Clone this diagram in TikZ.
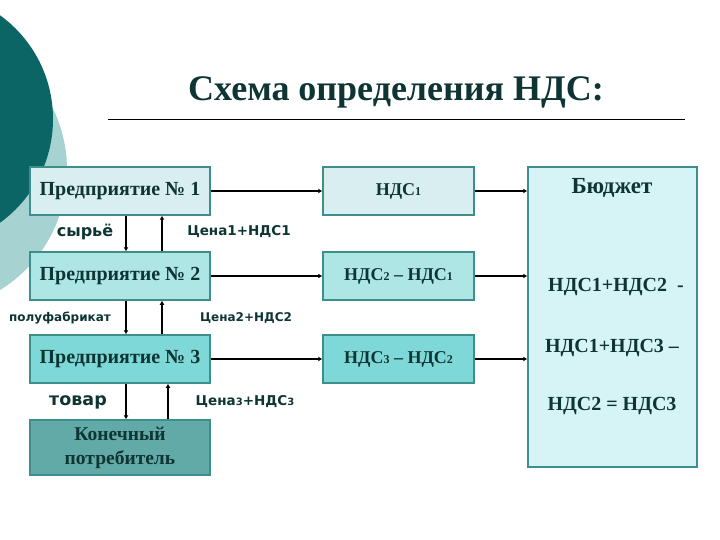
\documentclass[tikz,border=0pt]{standalone}
\usepackage{fontspec}
\setmainfont{Liberation Serif}
\newfontfamily\lblfont{DejaVu Sans}
\usetikzlibrary{arrows.meta}

\definecolor{inkdark}{HTML}{0E3434}
\definecolor{circdark}{HTML}{0A6564}
\definecolor{circlight}{HTML}{A6D2D2}
\definecolor{edgeteal}{HTML}{3E8E8B}
\definecolor{fillone}{HTML}{D9EEF0}
\definecolor{filltwo}{HTML}{AEE6E6}
\definecolor{fillthree}{HTML}{7FD8D8}
\definecolor{fillend}{HTML}{62AAA7}
\definecolor{fillbudget}{HTML}{D6F4F6}

\tikzset{
  firm/.style={rectangle, draw=edgeteal, line width=1.5pt, minimum width=180pt,
    minimum height=48pt, text=inkdark, font=\bfseries\fontsize{20}{24}\selectfont},
  tax/.style={rectangle, draw=edgeteal, line width=1.5pt, minimum width=151pt,
    minimum height=48pt, text=inkdark, font=\bfseries\fontsize{18}{21}\selectfont},
  note/.style={text=inkdark, font=\lblfont\bfseries\fontsize{13.5}{16}\selectfont, inner sep=1pt},
  sum/.style={text=inkdark, font=\bfseries\fontsize{20}{24}\selectfont, inner sep=1pt},
  flow/.style={line width=1.8pt, -{Latex[length=4pt,width=5pt]}}
}
\newcommand{\dg}[1]{{\fontsize{12}{14}\selectfont #1}}

\begin{document}
\begin{tikzpicture}[x=1pt, y=-1pt]
\useasboundingbox (0,0) rectangle (720,540);

% decoration circles
\fill[circlight] (-74,170) circle (141);
\fill[circdark] (-75,119) circle (128);

% title
\node[text=inkdark, font=\bfseries\fontsize{36}{42}\selectfont] (title) at (396,92) {Схема определения НДС:};
\draw[line width=1pt] (108,120) coordinate (rulel) -- (685,120) coordinate (ruler);

% firms
\node[firm, fill=fillone] (P1) at (120,191) {Предприятие № 1};
\node[firm, fill=filltwo] (P2) at (120,276) {Предприятие № 2};
\node[firm, fill=fillthree] (P3) at (120,359) {Предприятие № 3};
\node[firm, fill=fillend, minimum height=55pt, align=center,
  font=\bfseries\fontsize{19.5}{24}\selectfont] (K) at (120,447.5) {Конечный\\потребитель};

% tax boxes
\node[tax, fill=fillone] (N1) at (398.5,191) {НДС\dg{1}};
\node[tax, fill=filltwo] (N2) at (398.5,276) {НДС\dg{2} – НДС\dg{1}};
\node[tax, fill=fillthree] (N3) at (398.5,359) {НДС\dg{3} – НДС\dg{2}};

% budget
\node[rectangle, draw=edgeteal, line width=1.5pt, fill=fillbudget,
  minimum width=169pt, minimum height=300pt] (B) at (612.5,317) {};
\node[sum, font=\bfseries\fontsize{23}{27}\selectfont] (B0) at (612,188) {Бюджет};
\node[sum] (B1) at (616,287) {НДС1+НДС2\ \ -};
\node[sum] (B2) at (612,348) {НДС1+НДС3 –};
\node[sum] (B3) at (612,406) {НДС2 = НДС3};

% flows to the budget
\draw[flow] (P1) -- (N1);
\draw[flow] (P2) -- (N2);
\draw[flow] (P3) -- (N3);
\draw[flow] (N1.east) -- (N1.east -| B.west);
\draw[flow] (N2.east) -- (N2.east -| B.west);
\draw[flow] (N3.east) -- (N3.east -| B.west);

% goods down, money up
\draw[flow] ([xshift=6pt]P1.south) -- ([xshift=6pt]P2.north);
\draw[flow] ([xshift=42pt]P2.north) -- ([xshift=42pt]P1.south);
\draw[flow] ([xshift=6pt]P2.south) -- ([xshift=6pt]P3.north);
\draw[flow] ([xshift=42pt]P3.north) -- ([xshift=42pt]P2.south);
\draw[flow] ([xshift=6pt]P3.south) -- ([xshift=6pt]K.north);
\draw[flow] ([xshift=48pt]K.north) -- ([xshift=48pt]P3.south);

\node[note, font=\lblfont\bfseries\fontsize{16}{19}\selectfont] (L1) at (85,232) {сырьё};
\node[note] (L2) at (239,232) {Цена1+НДС1};
\node[note, font=\lblfont\bfseries\fontsize{12}{14}\selectfont] (L3) at (60,318) {полуфабрикат};
\node[note, font=\lblfont\bfseries\fontsize{12}{14}\selectfont] (L4) at (246,318) {Цена2+НДС2};
\node[note, font=\lblfont\bfseries\fontsize{17.5}{20}\selectfont] (L5) at (78,402) {товар};
\node[note] (L6) at (245,402) {Цена{\fontsize{10}{12}\selectfont 3}+НДС{\fontsize{10}{12}\selectfont 3}};
\end{tikzpicture}
\end{document}
